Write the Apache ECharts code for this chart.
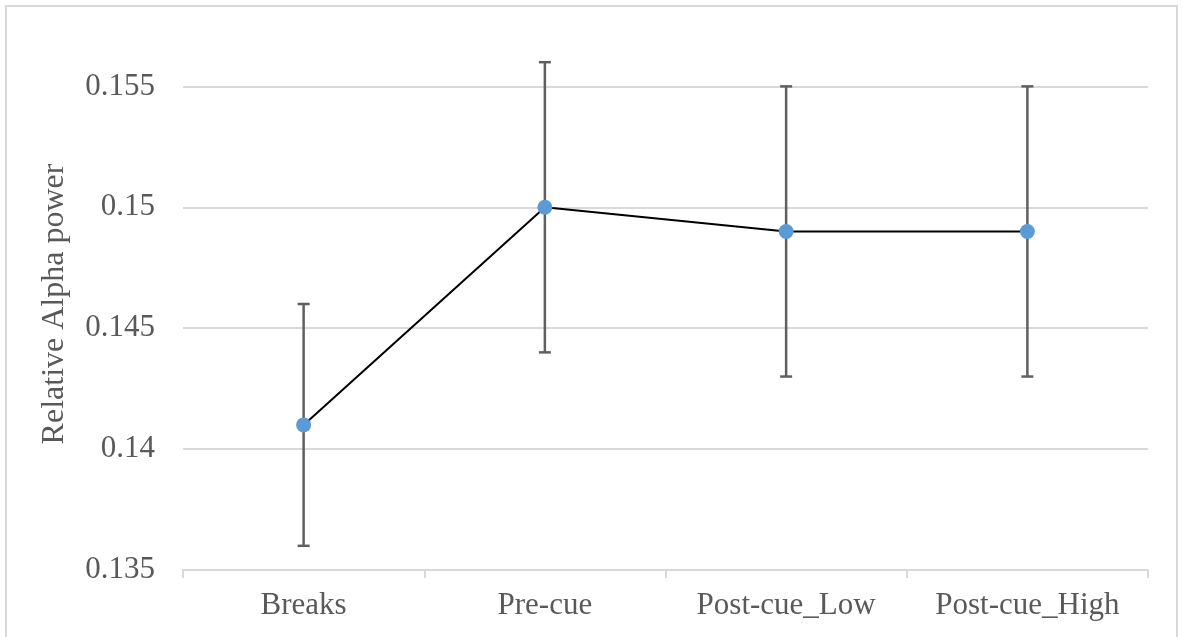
<!DOCTYPE html>
<html>
<head>
<meta charset="utf-8">
<script src="https://cdn.jsdelivr.net/npm/echarts@6/dist/echarts.min.js"></script>
<style>
html,body{margin:0;padding:0;background:#fff;}
#chart{width:1183px;height:637px;}
</style>
</head>
<body>
<div id="chart"></div>
<script>
var categories = ['Breaks', 'Pre-cue', 'Post-cue_Low', 'Post-cue_High'];
var means = [0.141, 0.150, 0.149, 0.149];
var errLow = [0.136, 0.144, 0.143, 0.143];
var errHigh = [0.146, 0.156, 0.155, 0.155];
var yTicks = [0.135, 0.14, 0.145, 0.15, 0.155];

var FONT = '"Liberation Serif", "Times New Roman", serif';
var TXT = '#595959';

var chart = echarts.init(document.getElementById('chart'), null, {renderer: 'canvas'});
var errData = categories.map(function (c, i) { return [i, errLow[i], errHigh[i]]; });

chart.setOption({
  animation: false,
  backgroundColor: '#fff',
  graphic: [{
    type: 'rect',
    shape: {x: 6, y: 6, width: 1171, height: 660},
    style: {fill: 'none', stroke: '#d9d9d9', lineWidth: 2},
    silent: true
  }],
  grid: {left: 183, right: 35, top: 38, bottom: 67, containLabel: false},
  xAxis: {
    type: 'category',
    data: categories,
    boundaryGap: true,
    axisLine: {show: true, lineStyle: {color: '#d9d9d9', width: 2}},
    axisTick: {show: true, length: 8, lineStyle: {color: '#d9d9d9', width: 2}},
    axisLabel: {color: TXT, fontFamily: FONT, fontSize: 31, margin: 20},
    splitLine: {show: false}
  },
  yAxis: {
    type: 'value',
    min: 0.135,
    max: 0.157,
    interval: 0.005,
    name: 'Relative Alpha power',
    nameLocation: 'middle',
    nameRotate: 90,
    nameGap: 112,
    nameTextStyle: {color: TXT, fontFamily: FONT, fontSize: 32},
    axisLine: {show: false},
    axisTick: {show: false},
    axisLabel: {
      color: TXT, fontFamily: FONT, fontSize: 31, margin: 28,
      showMaxLabel: false,
      formatter: function (v) {
        for (var i = 0; i < yTicks.length; i++) {
          if (Math.abs(v - yTicks[i]) < 1e-9) return String(yTicks[i]);
        }
        return '';
      }
    },
    splitLine: {show: true, showMaxLine: false, lineStyle: {color: '#d9d9d9', width: 2}}
  },
  series: [{
    type: 'custom',
    z: 2,
    clip: false,
    data: errData,
    renderItem: function (params, api) {
      var x = api.value(0);
      var lo = api.coord([x, api.value(1)]);
      var hi = api.coord([x, api.value(2)]);
      var hw = 6;
      var st = {stroke: '#5f5f5f', lineWidth: 2.5};
      return {
        type: 'group',
        children: [
          {type: 'line', shape: {x1: lo[0], y1: lo[1], x2: hi[0], y2: hi[1]}, style: st},
          {type: 'line', shape: {x1: lo[0] - hw, y1: lo[1], x2: lo[0] + hw, y2: lo[1]}, style: st},
          {type: 'line', shape: {x1: hi[0] - hw, y1: hi[1], x2: hi[0] + hw, y2: hi[1]}, style: st}
        ]
      };
    }
  }, {
    type: 'line',
    z: 3,
    data: means,
    symbol: 'circle',
    symbolSize: 15,
    lineStyle: {color: '#000', width: 2},
    itemStyle: {color: '#5b9bd5'},
    emphasis: {disabled: true}
  }]
});
</script>
</body>
</html>
